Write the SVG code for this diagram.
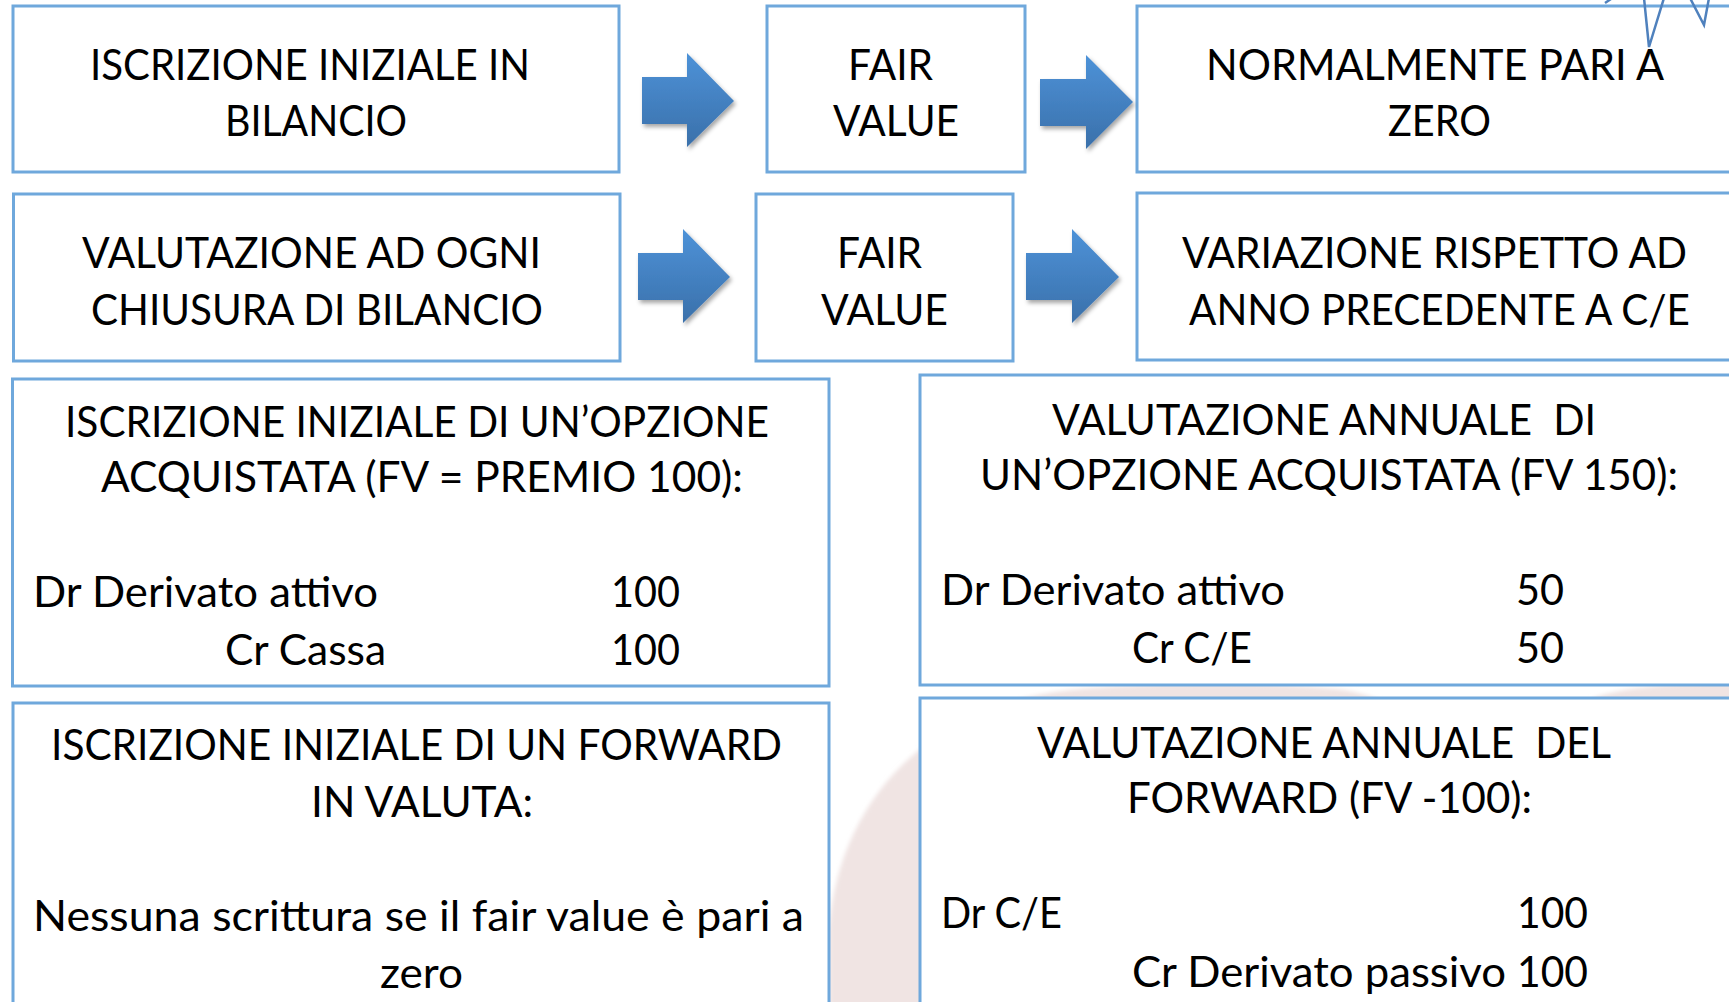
<svg xmlns="http://www.w3.org/2000/svg" width="1729" height="1002" viewBox="0 0 1729 1002">
<style>
.box{fill:#ffffff;stroke:#6fa8dc;stroke-width:3}
.t{font-family:Lato,"Open Sans","Liberation Sans",sans-serif;font-size:42px;fill:#000;white-space:pre}
.arrow{fill:url(#ag);filter:url(#sh)}
.star{fill:none;stroke:#4f81bd;stroke-width:2.5;stroke-linejoin:miter}
</style>
<defs>
<linearGradient id="ag" x1="0" y1="0" x2="0" y2="1">
<stop offset="0" stop-color="#4d92d8"/>
<stop offset="1" stop-color="#3a70aa"/>
</linearGradient>
<filter id="sh" x="-20%" y="-20%" width="150%" height="150%">
<feDropShadow dx="2" dy="3" stdDeviation="2" flood-color="#000" flood-opacity="0.35"/>
</filter>
<filter id="soft"><feGaussianBlur stdDeviation="2"/></filter>
</defs>
<rect x="0" y="0" width="1729" height="1002" fill="#ffffff"/>
<g id="watermark" fill="#f0e4e3" filter="url(#soft)">
<path d="M 829 1010 L 829 930 C 838 800, 930 705, 1070 690 C 1150 682, 1280 682, 1345 690 C 1500 720, 1550 900, 1550 1010 Z"/>
<path d="M 1590 700 Q 1620 684 1735 683 L 1735 720 Z"/>
</g>
<g id="n-iscrizione">
<rect class="box" x="13" y="6" width="606" height="166"/>
<text class="t" x="90" y="80" textLength="440" lengthAdjust="spacingAndGlyphs">ISCRIZIONE INIZIALE IN</text>
<text class="t" x="225" y="136" textLength="182" lengthAdjust="spacingAndGlyphs">BILANCIO</text>
</g>
<g id="n-fv1">
<rect class="box" x="767" y="6" width="258" height="166"/>
<text class="t" x="848" y="80" textLength="85" lengthAdjust="spacingAndGlyphs">FAIR</text>
<text class="t" x="833" y="136" textLength="126" lengthAdjust="spacingAndGlyphs">VALUE</text>
</g>
<g id="n-zero">
<rect class="box" x="1137" y="6" width="700" height="166"/>
<text class="t" x="1206" y="80" textLength="458" lengthAdjust="spacingAndGlyphs">NORMALMENTE PARI A</text>
<text class="t" x="1388" y="136" textLength="103" lengthAdjust="spacingAndGlyphs">ZERO</text>
</g>
<g id="n-valutazione">
<rect class="box" x="13.5" y="194" width="606.5" height="167"/>
<text class="t" x="82" y="268" textLength="459" lengthAdjust="spacingAndGlyphs">VALUTAZIONE AD OGNI</text>
<text class="t" x="91" y="325" textLength="452" lengthAdjust="spacingAndGlyphs">CHIUSURA DI BILANCIO</text>
</g>
<g id="n-fv2">
<rect class="box" x="756" y="194" width="257" height="167"/>
<text class="t" x="837" y="268" textLength="85" lengthAdjust="spacingAndGlyphs">FAIR</text>
<text class="t" x="821" y="325" textLength="127" lengthAdjust="spacingAndGlyphs">VALUE</text>
</g>
<g id="n-variazione">
<rect class="box" x="1137" y="193" width="700" height="167"/>
<text class="t" x="1182" y="268" textLength="505" lengthAdjust="spacingAndGlyphs">VARIAZIONE RISPETTO AD</text>
<text class="t" x="1189" y="325" textLength="501" lengthAdjust="spacingAndGlyphs">ANNO PRECEDENTE A C/E</text>
</g>
<g id="n-opzione-iniziale">
<rect class="box" x="12.5" y="379" width="816.5" height="307"/>
<text class="t" x="65" y="437" textLength="704" lengthAdjust="spacingAndGlyphs">ISCRIZIONE INIZIALE DI UN’OPZIONE</text>
<text class="t" x="101" y="492" textLength="642" lengthAdjust="spacingAndGlyphs">ACQUISTATA (FV = PREMIO 100):</text>
<text class="t" x="33" y="607" textLength="345" lengthAdjust="spacingAndGlyphs">Dr Derivato attivo</text>
<text class="t" x="611" y="607" textLength="69" lengthAdjust="spacingAndGlyphs">100</text>
<text class="t" x="225" y="665" textLength="161" lengthAdjust="spacingAndGlyphs">Cr Cassa</text>
<text class="t" x="611" y="665" textLength="69" lengthAdjust="spacingAndGlyphs">100</text>
</g>
<g id="n-opzione-annuale">
<rect class="box" x="920" y="375" width="900" height="310"/>
<text class="t" x="1052" y="435" textLength="544" lengthAdjust="spacingAndGlyphs">VALUTAZIONE ANNUALE  DI</text>
<text class="t" x="980" y="490" textLength="698" lengthAdjust="spacingAndGlyphs">UN’OPZIONE ACQUISTATA (FV 150):</text>
<text class="t" x="941" y="605" textLength="344" lengthAdjust="spacingAndGlyphs">Dr Derivato attivo</text>
<text class="t" x="1516" y="605" textLength="48" lengthAdjust="spacingAndGlyphs">50</text>
<text class="t" x="1132" y="663" textLength="120" lengthAdjust="spacingAndGlyphs">Cr C/E</text>
<text class="t" x="1516" y="663" textLength="48" lengthAdjust="spacingAndGlyphs">50</text>
</g>
<g id="n-forward-iniziale">
<rect class="box" x="13" y="703" width="816" height="400"/>
<text class="t" x="51" y="760" textLength="731" lengthAdjust="spacingAndGlyphs">ISCRIZIONE INIZIALE DI UN FORWARD</text>
<text class="t" x="311" y="817" textLength="222" lengthAdjust="spacingAndGlyphs">IN VALUTA:</text>
<text class="t" x="33" y="931" textLength="771" lengthAdjust="spacingAndGlyphs">Nessuna scrittura se il fair value è pari a</text>
<text class="t" x="380" y="988" textLength="83" lengthAdjust="spacingAndGlyphs">zero</text>
</g>
<g id="n-forward-annuale">
<rect class="box" x="920" y="698" width="900" height="400"/>
<text class="t" x="1037" y="758" textLength="574" lengthAdjust="spacingAndGlyphs">VALUTAZIONE ANNUALE  DEL</text>
<text class="t" x="1127" y="813" textLength="405" lengthAdjust="spacingAndGlyphs">FORWARD (FV -100):</text>
<text class="t" x="941" y="928" textLength="121" lengthAdjust="spacingAndGlyphs">Dr C/E</text>
<text class="t" x="1517" y="928" textLength="71" lengthAdjust="spacingAndGlyphs">100</text>
<text class="t" x="1132" y="987" textLength="374" lengthAdjust="spacingAndGlyphs">Cr Derivato passivo</text>
<text class="t" x="1517" y="987" textLength="71" lengthAdjust="spacingAndGlyphs">100</text>
</g>
<g id="connectors">
<path class="arrow" d="M642 77 H687 V53 L734 101 L687 147 V124 H642 Z"/>
<path class="arrow" d="M1040 79 H1086 V55 L1133 102 L1086 149 V126 H1040 Z"/>
<path class="arrow" d="M638 253 H683 V229 L730 277 L683 323 V300 H638 Z"/>
<path class="arrow" d="M1026 253 H1072 V229 L1119 277 L1072 323 V300 H1026 Z"/>
</g>
<g id="starburst">
<path class="star" d="M1644 -2 L1649 47 L1664 -2"/>
<path class="star" d="M1690 -2 L1704 25 L1709 -2"/>
<path class="star" d="M1605 3 L1611 -1"/>
</g>
</svg>
